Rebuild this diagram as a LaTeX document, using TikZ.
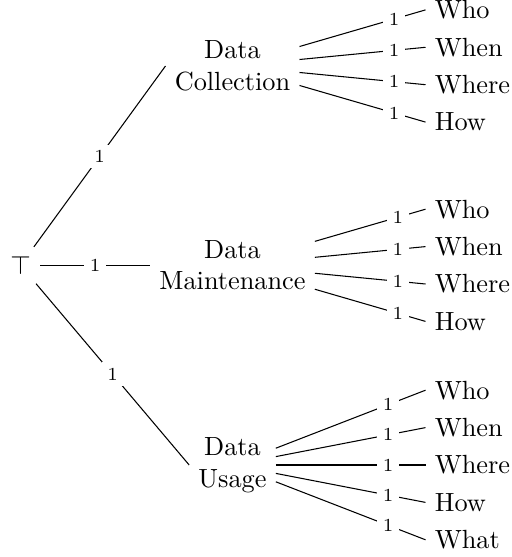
\documentclass[tikz,border=0pt]{standalone}
\begin{document}
\begin{tikzpicture}[x=0.3802pt, y=-0.3802pt,
  mid/.style={align=center},
  leaf/.style={anchor=west},
  lbl/.style={font=\scriptsize, fill=white, inner sep=2.2pt},
  conn/.style={draw, line width=0.4pt}]
\useasboundingbox (0,0) rectangle (511,557);
% root and level 1
\node (root) at (20.5,265.3) {$\top$};
\node[mid] (col) at (232.5,66) {Data\\Collection};
\node[mid] (mai) at (232.5,265.3) {Data\\Maintenance};
\node[mid] (usa) at (232.5,465) {Data\\Usage};
\draw[conn] (root) -- node[lbl]{1} (col.west);
\draw[conn] (root) -- node[lbl]{1} (mai.west);
\draw[conn] (root) -- node[lbl]{1} (usa.west);
% leaves of Data Collection
\node[leaf] (c1) at (425.5,9.9) {Who};
\node[leaf] (c2) at (425.5,47.3) {When};
\node[leaf] (c3) at (425.5,84.7) {Where};
\node[leaf] (c4) at (425.5,122.1) {How};
% leaves of Data Maintenance
\node[leaf] (m1) at (425.5,209.2) {Who};
\node[leaf] (m2) at (425.5,246.6) {When};
\node[leaf] (m3) at (425.5,284.0) {Where};
\node[leaf] (m4) at (425.5,321.4) {How};
% leaves of Data Usage
\node[leaf] (u1) at (425.5,390.2) {Who};
\node[leaf] (u2) at (425.5,427.6) {When};
\node[leaf] (u3) at (425.5,465.0) {Where};
\node[leaf] (u4) at (425.5,502.4) {How};
\node[leaf] (u5) at (425.5,539.8) {What};
\foreach \p/\c in {col/c1,col/c2,col/c3,col/c4,mai/m1,mai/m2,mai/m3,mai/m4,usa/u1,usa/u2,usa/u3,usa/u4,usa/u5}
  \draw[conn] (\p) -- node[lbl,pos=0.75]{1} (\c.west);
\end{tikzpicture}
\end{document}
